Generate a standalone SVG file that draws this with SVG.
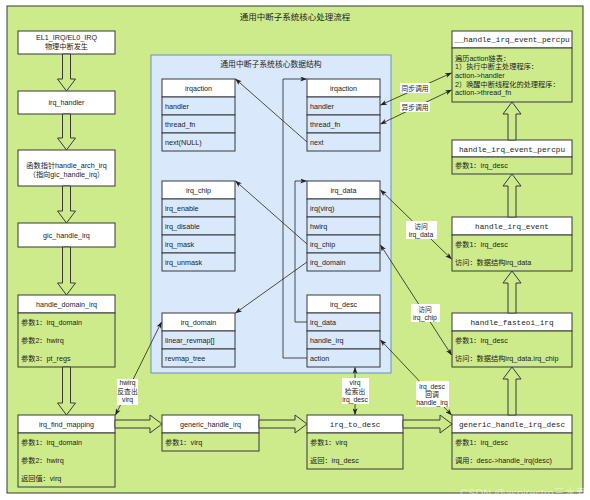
<svg xmlns="http://www.w3.org/2000/svg" width="590" height="500" viewBox="0 0 590 500">
<style>
.g{fill:#cdeb8b;stroke:#36393d;stroke-width:1}
.w{fill:#ffffff;stroke:#36393d;stroke-width:1}
.b{fill:#dae8fc;stroke:#36393d;stroke-width:1}
.t{font-family:"Liberation Sans","Noto Sans CJK SC",sans-serif;font-size:7.2px;fill:#222}
.c{text-anchor:middle}
.m{font-family:"Liberation Mono","DejaVu Sans Mono",monospace;font-size:7.7px}
.ln{fill:none;stroke:#222;stroke-width:0.8}
.lb{fill:#ffffff}
.fa{fill:#cdeb8b;stroke:#36393d;stroke-width:1}
</style>
<defs>
<marker id="ar" viewBox="0 0 8 6" refX="7.5" refY="3" markerWidth="7" markerHeight="5" markerUnits="userSpaceOnUse" orient="auto-start-reverse">
<path d="M0,0 L8,3 L0,6 L2,3 z" fill="#222"/>
</marker>
</defs>

<g id="frame">
<rect x="7" y="6" width="576" height="487" class="g"/>
<text x="295" y="19.5" class="t c" style="font-size:8.5px">通用中断子系统核心处理流程</text>
</g>

<g id="datastruct-area">
<rect x="151" y="55" width="240" height="318" fill="#dae8fc" stroke="#6c8ebf" stroke-width="1"/>
<text x="271" y="66.5" class="t c" style="font-size:7.8px">通用中断子系统核心数据结构</text>
</g>

<!-- left flow -->
<g id="el1_irq">
<rect x="18" y="31" width="97" height="23" class="w"/>
<text x="66.5" y="40" class="t c">EL1_IRQ/EL0_IRQ</text>
<text x="66.5" y="49.3" class="t c">物理中断发生</text>
</g>
<g id="irq_handler">
<rect x="18" y="91" width="97" height="23" class="w"/>
<text x="66.5" y="105" class="t c">irq_handler</text>
</g>
<g id="handle_arch_irq">
<rect x="18" y="150" width="97" height="36" class="w"/>
<text x="66.5" y="167.5" class="t c">函数指针handle_arch_irq</text>
<text x="66.5" y="176.5" class="t c">（指向gic_handle_irq）</text>
</g>
<g id="gic_handle_irq">
<rect x="18" y="223" width="97" height="24" class="w"/>
<text x="66.5" y="237.5" class="t c">gic_handle_irq</text>
</g>
<g id="handle_domain_irq">
<rect x="18" y="295" width="97" height="18" class="w"/>
<rect x="18" y="313" width="97" height="54" class="g"/>
<text x="66.5" y="306.5" class="t c">handle_domain_irq</text>
<text x="21" y="324.5" class="t">参数1：irq_domain</text>
<text x="21" y="342.5" class="t">参数2：hwirq</text>
<text x="21" y="360.5" class="t">参数3：pt_regs</text>
</g>
<g id="irq_find_mapping">
<rect x="18" y="415" width="97" height="18" class="w"/>
<rect x="18" y="433" width="97" height="54" class="g"/>
<text x="66.5" y="426.5" class="t c">irq_find_mapping</text>
<text x="21" y="444.5" class="t">参数1：irq_domain</text>
<text x="21" y="462.5" class="t">参数2：hwirq</text>
<text x="21" y="480.5" class="t">返回值：virq</text>
</g>
<g id="generic_handle_irq">
<rect x="162" y="415" width="97" height="18" class="w"/>
<rect x="162" y="433" width="97" height="18" class="g"/>
<text x="210.5" y="426.5" class="t c">generic_handle_irq</text>
<text x="165" y="444.5" class="t">参数1：virq</text>
</g>
<g id="irq_to_desc">
<rect x="307" y="415" width="96" height="18" class="w"/>
<rect x="307" y="433" width="96" height="36" class="g"/>
<text x="355" y="427" class="t c m">irq_to_desc</text>
<text x="310" y="444.5" class="t">参数1：virq</text>
<text x="310" y="462.5" class="t">返回：irq_desc</text>
</g>
<g id="generic_handle_irq_desc">
<rect x="452" y="415" width="120" height="18" class="w"/>
<rect x="452" y="433" width="120" height="36" class="g"/>
<text x="512" y="427" class="t c m">generic_handle_irq_desc</text>
<text x="455" y="444.5" class="t">参数1：irq_desc</text>
<text x="455" y="462.5" class="t">调用：desc-&gt;handle_irq(desc)</text>
</g>

<!-- right flow -->
<g id="handle_fasteoi_irq">
<rect x="452" y="313" width="120" height="18" class="w"/>
<rect x="452" y="331" width="120" height="36" class="g"/>
<text x="512" y="325" class="t c m">handle_fasteoi_irq</text>
<text x="455" y="342.5" class="t">参数1：irq_desc</text>
<text x="455" y="360.5" class="t">访问：数据结构irq_data.irq_chip</text>
</g>
<g id="handle_irq_event">
<rect x="452" y="217" width="120" height="18" class="w"/>
<rect x="452" y="235" width="120" height="36" class="g"/>
<text x="512" y="229" class="t c m">handle_irq_event</text>
<text x="455" y="246.5" class="t">参数1：irq_desc</text>
<text x="455" y="264.5" class="t">访问：数据结构irq_data</text>
</g>
<g id="handle_irq_event_percpu">
<rect x="452" y="140" width="120" height="17" class="w"/>
<rect x="452" y="157" width="120" height="17" class="g"/>
<text x="512" y="151.5" class="t c m">handle_irq_event_percpu</text>
<text x="455" y="168" class="t">参数1：irq_desc</text>
</g>
<g id="__handle_irq_event_percpu">
<rect x="452" y="31" width="120" height="17" class="w"/>
<rect x="452" y="48" width="120" height="54" class="g"/>
<text x="512" y="42.3" class="t c m">__handle_irq_event_percpu</text>
<text x="455" y="60.8" class="t">遍历action链表：</text>
<text x="455" y="69.4" class="t">1）执行中断主处理程序：</text>
<text x="455" y="78" class="t">action-&gt;handler</text>
<text x="455" y="86.6" class="t">2）唤醒中断线程化的处理程序：</text>
<text x="455" y="95.2" class="t">action-&gt;thread_fn</text>
</g>

<!-- data structures -->
<g id="irqaction_left">
<rect x="162" y="79" width="73" height="18" class="w"/>
<rect x="162" y="97" width="73" height="18" class="b"/>
<rect x="162" y="115" width="73" height="18" class="b"/>
<rect x="162" y="133" width="73" height="18" class="b"/>
<text x="198.5" y="90.5" class="t c">irqaction</text>
<text x="165" y="108.5" class="t">handler</text>
<text x="165" y="126.5" class="t">thread_fn</text>
<text x="165" y="144.5" class="t">next(NULL)</text>
</g>
<g id="irq_chip">
<rect x="162" y="181" width="73" height="18" class="w"/>
<rect x="162" y="199" width="73" height="18" class="b"/>
<rect x="162" y="217" width="73" height="18" class="b"/>
<rect x="162" y="235" width="73" height="18" class="b"/>
<rect x="162" y="253" width="73" height="18" class="b"/>
<text x="198.5" y="192.5" class="t c">irq_chip</text>
<text x="165" y="210.5" class="t">irq_enable</text>
<text x="165" y="228.5" class="t">irq_disable</text>
<text x="165" y="246.5" class="t">irq_mask</text>
<text x="165" y="264.5" class="t">irq_unmask</text>
</g>
<g id="irq_domain">
<rect x="162" y="313" width="73" height="18" class="w"/>
<rect x="162" y="331" width="73" height="18" class="b"/>
<rect x="162" y="349" width="73" height="18" class="b"/>
<text x="198.5" y="324.5" class="t c">irq_domain</text>
<text x="165" y="342.5" class="t">linear_revmap[]</text>
<text x="165" y="360.5" class="t">revmap_tree</text>
</g>
<g id="irqaction_right">
<rect x="307" y="79" width="73" height="18" class="w"/>
<rect x="307" y="97" width="73" height="18" class="b"/>
<rect x="307" y="115" width="73" height="18" class="b"/>
<rect x="307" y="133" width="73" height="18" class="b"/>
<text x="343.5" y="90.5" class="t c">irqaction</text>
<text x="310" y="108.5" class="t">handler</text>
<text x="310" y="126.5" class="t">thread_fn</text>
<text x="310" y="144.5" class="t">next</text>
</g>
<g id="irq_data">
<rect x="307" y="181" width="73" height="18" class="w"/>
<rect x="307" y="199" width="73" height="18" class="b"/>
<rect x="307" y="217" width="73" height="18" class="b"/>
<rect x="307" y="235" width="73" height="18" class="b"/>
<rect x="307" y="253" width="73" height="18" class="b"/>
<text x="343.5" y="192.5" class="t c">irq_data</text>
<text x="310" y="210.5" class="t">irq(virq)</text>
<text x="310" y="228.5" class="t">hwirq</text>
<text x="310" y="246.5" class="t">irq_chip</text>
<text x="310" y="264.5" class="t">irq_domain</text>
</g>
<g id="irq_desc">
<rect x="307" y="295" width="73" height="18" class="w"/>
<rect x="307" y="313" width="73" height="18" class="b"/>
<rect x="307" y="331" width="73" height="18" class="b"/>
<rect x="307" y="349" width="73" height="18" class="b"/>
<text x="343.5" y="306.5" class="t c">irq_desc</text>
<text x="310" y="324.5" class="t">irq_data</text>
<text x="310" y="342.5" class="t">handle_irq</text>
<text x="310" y="360.5" class="t">action</text>
</g>

<g id="connectors">
<!-- flow block arrows -->
<polygon class="fa" points="62.5,54 70.5,54 70.5,79 75.5,79 66.5,91 57.5,79 62.5,79"/>
<polygon class="fa" points="62.5,114 70.5,114 70.5,138 75.5,138 66.5,150 57.5,138 62.5,138"/>
<polygon class="fa" points="62.5,186 70.5,186 70.5,211 75.5,211 66.5,223 57.5,211 62.5,211"/>
<polygon class="fa" points="62.5,247 70.5,247 70.5,283 75.5,283 66.5,295 57.5,283 62.5,283"/>
<polygon class="fa" points="62.5,367 70.5,367 70.5,403 75.5,403 66.5,415 57.5,403 62.5,403"/>
<polygon class="fa" points="115,420 150,420 150,415 162,424 150,433 150,428 115,428"/>
<polygon class="fa" points="259,420 295,420 295,415 307,424 295,433 295,428 259,428"/>
<polygon class="fa" points="403,420 440,420 440,415 452,424 440,433 440,428 403,428"/>
<polygon class="fa" points="508,415 516,415 516,379 521,379 512,367 503,379 508,379"/>
<polygon class="fa" points="508,313 516,313 516,283 521,283 512,271 503,283 508,283"/>
<polygon class="fa" points="508,217 516,217 516,186 521,186 512,174 503,186 508,186"/>
<polygon class="fa" points="508,140 516,140 516,114 521,114 512,102 503,114 508,114"/>

<!-- data structure links -->
<path class="ln" d="M307,142 L235.5,79" marker-end="url(#ar)"/>
<path class="ln" d="M307,244 L235.5,181" marker-end="url(#ar)"/>
<path class="ln" d="M307,262 L235.5,313" marker-end="url(#ar)"/>
<path class="ln" d="M307,358 H283 V79 H306.5" marker-end="url(#ar)"/>
<path class="ln" d="M307,322 H295 V181 H306.5" marker-end="url(#ar)"/>

<!-- outer links -->
<path class="ln" d="M380.5,105 L451.5,73" marker-start="url(#ar)" marker-end="url(#ar)"/>
<path class="ln" d="M380.5,124 L451.5,90" marker-start="url(#ar)" marker-end="url(#ar)"/>
<path class="ln" d="M380.5,190 L451.5,259" marker-start="url(#ar)" marker-end="url(#ar)"/>
<path class="ln" d="M380.5,245 L451.5,355" marker-start="url(#ar)" marker-end="url(#ar)"/>
<path class="ln" d="M380.5,340 L451.5,415" marker-start="url(#ar)" marker-end="url(#ar)"/>
<path class="ln" d="M355,367.5 V414.5" marker-start="url(#ar)" marker-end="url(#ar)"/>
<path class="ln" d="M115.5,415 L161.5,322" marker-start="url(#ar)" marker-end="url(#ar)"/>

<!-- labels -->
<rect class="lb" x="400" y="83" width="30" height="10"/>
<text x="415" y="90.5" class="t c" style="font-size:6.8px">同步调用</text>
<rect class="lb" x="400" y="102" width="30" height="10"/>
<text x="415" y="109.5" class="t c" style="font-size:6.8px">异步调用</text>
<rect class="lb" x="406" y="221" width="31" height="18"/>
<text x="421" y="229.3" class="t c" style="font-size:6.8px">访问</text>
<text x="421" y="237.3" class="t c" style="font-size:6.8px">irq_data</text>
<rect class="lb" x="411" y="304" width="29" height="18"/>
<text x="425" y="311.5" class="t c" style="font-size:6.8px">访问</text>
<text x="425" y="319.5" class="t c" style="font-size:6.8px">irq_chip</text>
<rect class="lb" x="416" y="381" width="33" height="26"/>
<text x="432" y="389.3" class="t c" style="font-size:6.8px">irq_desc</text>
<text x="432" y="397.3" class="t c" style="font-size:6.8px">回调</text>
<text x="432" y="405.3" class="t c" style="font-size:6.8px">handle_irq</text>
<rect class="lb" x="342" y="378" width="27" height="26"/>
<text x="355" y="385.3" class="t c" style="font-size:6.8px">virq</text>
<text x="355" y="394.3" class="t c" style="font-size:6.8px">检索出</text>
<text x="355" y="402.3" class="t c" style="font-size:6.8px">irq_desc</text>
<rect class="lb" x="117" y="379" width="21" height="26"/>
<text x="127.5" y="385.3" class="t c" style="font-size:6.8px">hwirq</text>
<text x="127.5" y="394.3" class="t c" style="font-size:6.8px">反查出</text>
<text x="127.5" y="402.3" class="t c" style="font-size:6.8px">virq</text>
</g>

<text x="460" y="497" style="font-family:'Liberation Sans','Noto Sans CJK SC',sans-serif;font-size:11px;fill:#ffffff;fill-opacity:0.55">CSDN @aspirestro三水寿</text>
</svg>
